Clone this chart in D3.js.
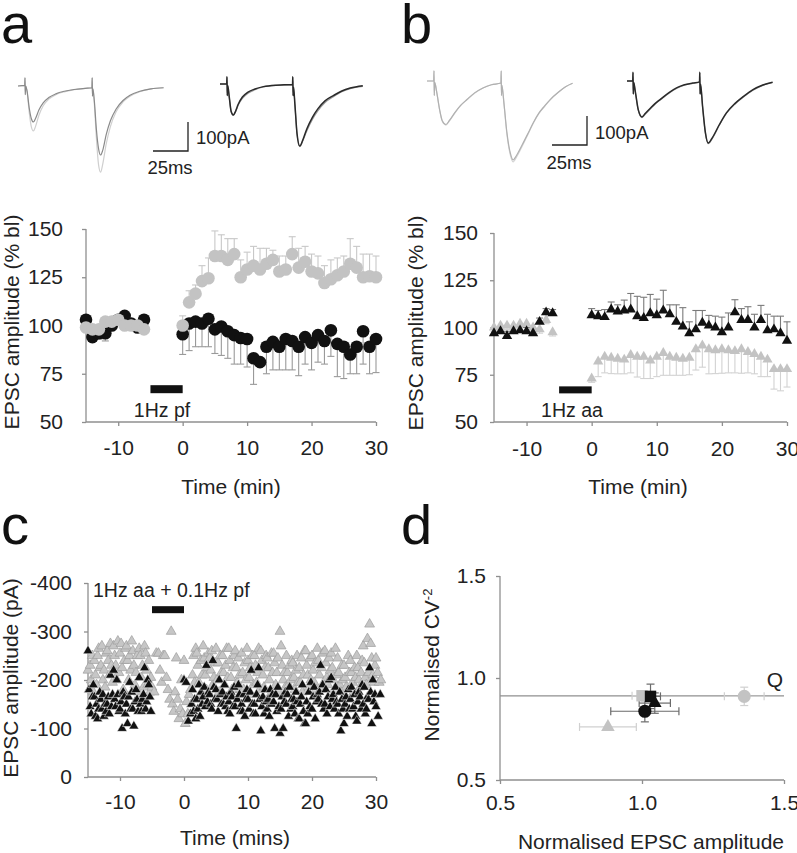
<!DOCTYPE html>
<html>
<head>
<meta charset="utf-8">
<script src="https://cdn.jsdelivr.net/npm/d3@7"></script>
<style>
  body { margin: 0; background: #fff; }
  svg { display: block; font-family: "Liberation Sans", Arial, sans-serif; }
</style>
</head>
<body>
<div id="app"></div>
<script>
// ---- data ----
// panel a / b : EPSC amplitude (% bl), 1 point per minute
const abTime = [-15, -14, -13, -12, -11, -10, -9, -8, -7, -6,
  0, 1, 2, 3, 4, 5, 6, 7, 8, 9, 10, 11, 12, 13, 14, 15, 16, 17, 18, 19, 20,
  21, 22, 23, 24, 25, 26, 27, 28, 29, 30]

const aBlack = [103, 94, 96, 96, 100, 103, 105, 101, 99, 103,
  95.5, 101, 102, 101, 103.5, 98, 99.5, 97, 95, 93.5, 93, 83, 81, 89, 91.5, 89, 93, 92, 89, 94, 91,
  95, 92, 97.5, 90.5, 89, 85, 89, 97, 89, 93]
const aBlackErr = [2, 2, 3, 4, 2, 2, 2, 2, 2, 2,
  10.5, 14, 13, 12, 14.5, 12.5, 15, 14, 15, 13.5, 14.5, 13.5, 2, 14, 14.5, 12, 16, 15, 15, 14, 14,
  14, 12, 13.5, 17, 16.5, 10, 14, 17, 14, 17.4]
const aGray = [99, 98, 98, 102, 102, 103, 100, 100, 100, 98,
  100, 112, 116.5, 123, 124.5, 136, 136, 134, 137, 125, 129, 131, 129, 132, 134, 128, 129, 137, 130, 133, 128,
  127, 122, 124, 126, 128, 132, 130, 125, 125.5, 125]
const aGrayErr = [2, 2, 2, 2, 2, 2, 2, 2, 2, 2,
  5, 6, 4.5, 8, 10.5, 13, 11, 11, 8, 9, 9, 10, 11, 8, 5, 8, 7, 9, 10, 8, 9,
  9, 9, 10, 9, 8, 13, 11, 12, 11.5, 11]

const bBlack = [97, 98, 95.5, 98, 98.5, 98, 97, 103, 108, 107.5,
  106.5, 106, 105.5, 109.5, 108.5, 109, 109.5, 106, 105, 107.5, 106.5, 109, 107, 103, 100.5, 97, 99, 102.5, 101, 100, 97.5,
  100, 108, 104, 104, 100, 104, 98.5, 99, 97, 93]
const bBlackErr = [2.5, 2, 2.5, 2, 2, 2, 2.5, 2, 2, 2,
  3.5, 3, 4, 4, 3.5, 5.5, 8.5, 10.5, 11, 10, 8.5, 10.7, 5, 9, 10, 6, 10, 6.5, 5.4, 6, 8,
  7.7, 6.7, 6, 7, 7, 7.7, 8.5, 7, 9, 10]
const bGray = [100, 101, 101, 101, 102, 102, 100, 99, 104, 97.5,
  73, 82, 84.5, 84, 83.5, 83, 85.5, 84.5, 84.5, 82.5, 84.5, 86.5, 84.5, 84, 83.5, 84, 88.5, 90.5, 88.5, 88, 88.5,
  88, 87.5, 88.5, 87, 86, 84.5, 83, 78, 78, 78]
const bGrayErr = [2, 2, 2, 2, 2, 2, 2, 2, 2, 2,
  2, 8, 8.5, 8.4, 8, 7.5, 9.5, 10.7, 11.5, 9.5, 10.5, 11.8, 9.8, 9.3, 8.8, 9, 11, 11.5, 13, 12.4, 12.7,
  12, 11.5, 12.7, 11, 10.5, 10.5, 9, 10.6, 11.5, 9.5]

// panel c : EPSC amplitude (pA), rows = [minute, values...]
const cGray = [
  [-15, -220, -180, -230, -200, -250, -175], [-14, -240, -210, -190, -250, -265, -225],
  [-13, -230, -270, -200, -220, -185, -255], [-12, -260, -240, -210, -275, -230, -195],
  [-11, -270, -250, -230, -200, -280, -215], [-10, -255, -275, -225, -180, -240, -265],
  [-9, -270, -240, -200, -250, -220, -280], [-8, -260, -230, -190, -215, -250, -175],
  [-7, -265, -250, -205, -230, -185, -270], [-6, -255, -220, -190, -240, -175, -205],
  [-5, -185, -175, -255], [-4, -255, -220, -195, -250], [-3, -250, -205, -180, -160],
  [-2, -300, -150, -135, -175, -245], [-1, -160, -120, -140, -200, -130], [0, -240, -110, -155, -130, -170],
  [1, -180, -150, -210, -250, -195, -265], [2, -255, -230, -195, -165, -240, -210],
  [3, -270, -245, -210, -180, -225, -255], [4, -245, -220, -260, -190, -205, -235],
  [5, -265, -200, -235, -175, -250, -215], [6, -250, -215, -190, -230, -265, -205],
  [7, -265, -240, -205, -180, -225, -250], [8, -260, -225, -195, -245, -210, -180],
  [9, -255, -215, -180, -235, -200, -265], [10, -240, -205, -225, -170, -250, -190],
  [11, -250, -230, -195, -215, -265, -180], [12, -260, -240, -210, -185, -225, -250],
  [13, -245, -225, -200, -170, -255, -215], [14, -255, -235, -190, -215, -245, -175],
  [15, -300, -270, -230, -200, -215, -185], [16, -250, -215, -190, -230, -200, -240],
  [17, -235, -205, -180, -220, -250, -195], [18, -225, -195, -245, -175, -210, -260],
  [19, -260, -230, -210, -185, -245, -200], [20, -250, -220, -195, -235, -180, -265],
  [21, -240, -210, -180, -225, -255, -195], [22, -260, -235, -205, -190, -245, -220],
  [23, -255, -225, -200, -180, -265, -210], [24, -245, -215, -190, -175, -230, -200],
  [25, -230, -205, -185, -140, -250, -215], [26, -240, -215, -195, -175, -225, -205],
  [27, -250, -225, -200, -185, -215, -240], [28, -270, -235, -205, -190, -285, -215],
  [29, -315, -275, -245, -210, -195, -230], [30, -245, -215, -195, -200]
]
const cBlack = [
  [-15, -260, -180, -145, -130, -165, -190], [-14, -165, -125, -150, -120, -140, -175],
  [-13, -160, -140, -170, -125, -150, -135], [-12, -150, -165, -130, -210, -145, -170],
  [-11, -220, -160, -145, -200, -170, -135], [-10, -140, -155, -100, -175, -165, -130],
  [-9, -150, -110, -165, -195, -140, -175], [-8, -140, -105, -155, -180, -160, -135],
  [-7, -205, -150, -135, -160, -170, -225], [-6, -140, -155, -200, -190, -165, -135],
  [0, -200, -195, -115],
  [1, -130, -150, -180, -135, -160, -120], [2, -160, -140, -190, -125, -175, -150],
  [3, -165, -185, -145, -230, -155, -175], [4, -170, -150, -140, -240, -185, -160],
  [5, -180, -160, -135, -200, -170, -150], [6, -175, -150, -190, -145, -165, -135],
  [7, -155, -130, -175, -165, -145, -185], [8, -145, -100, -160, -190, -170, -135],
  [9, -150, -135, -170, -125, -160, -180], [10, -160, -140, -175, -220, -150, -130],
  [11, -150, -130, -170, -190, -225, -160], [12, -95, -145, -165, -130, -180, -155],
  [13, -140, -160, -125, -180, -150, -170], [14, -155, -100, -170, -135, -185, -145],
  [15, -90, -140, -165, -100, -155, -175], [16, -150, -170, -125, -185, -140, -160],
  [17, -145, -160, -130, -175, -155, -120], [18, -120, -150, -165, -190, -135, -110],
  [19, -110, -155, -130, -175, -145, -195], [20, -140, -165, -185, -120, -155, -170],
  [21, -160, -175, -230, -150, -190, -140], [22, -150, -180, -130, -165, -200, -145],
  [23, -205, -160, -170, -140, -185, -155], [24, -150, -130, -175, -95, -160, -140],
  [25, -110, -150, -165, -125, -180, -140], [26, -160, -185, -140, -145, -170, -125],
  [27, -115, -155, -175, -165, -140, -190], [28, -150, -185, -130, -140, -165, -160],
  [29, -225, -175, -110, -200, -155, -170], [30, -145, -125, -170]
]

// panel d : normalised amplitude vs normalised CV^-2
const dShape = ['square', 'triangle', 'circle', 'square', 'triangle', 'circle']
const dTone = ['gray', 'gray', 'gray', 'black', 'black', 'black']
const dX = [1.00, 0.88, 1.36, 1.03, 1.045, 1.01]
const dY = [0.913, 0.76, 0.91, 0.91, 0.877, 0.837]
const dXErr = [0.035, 0.10, 0.07, 0.035, 0.055, 0.12]
const dYErr = [0.02, 0, 0.045, 0.06, 0.05, 0.052]
const dQ = 0.912

// example traces, [ms, pA]
const trALeftLight = [[0, 0], [4.8, 2], [5, 28], [5.2, -30], [5.5, 0], [6.5, -20], [8, -90], [9.5, -140], [11, -155], [12.5, -140], [15, -100], [18, -68], [22, -45], [27, -30], [33, -20], [40, -13], [48, -8], [52.8, -6], [53, 28], [53.2, -35], [53.5, -10], [54.5, -60], [56, -180], [57.5, -270], [59, -297], [60.5, -270], [63, -200], [66, -140], [70, -90], [75, -55], [80, -35], [87, -20], [95, -10], [104, -6]]
const trALeftDark = [[0, 0], [4.8, 2], [5, 28], [5.2, -30], [5.5, 0], [6.5, -18], [8, -75], [9.5, -112], [11, -124], [12.5, -112], [15, -82], [18, -58], [22, -40], [27, -27], [33, -18], [40, -12], [48, -8], [52.8, -6], [53, 28], [53.2, -35], [53.5, -10], [54.5, -50], [56, -150], [57.5, -215], [59, -238], [60.5, -222], [63, -168], [66, -120], [70, -80], [75, -50], [80, -32], [87, -18], [95, -10], [104, -6]]
const trARightGray = [[0, 0], [4.8, 0], [5, 25], [5.2, -40], [5.5, -5], [6.5, -42], [8, -97], [9.5, -108], [11, -97], [13, -73], [16, -50], [20, -32], [25, -20], [31, -10], [40, -5], [51.8, -2], [52, 25], [52.2, -40], [52.5, -10], [53.5, -72], [55, -172], [57, -216], [59, -198], [62, -162], [66, -122], [70, -92], [75, -64], [81, -44], [87, -27], [93, -16], [102, -8]]
const trARightBlack = [[0, 0], [4.8, 0], [5, 25], [5.2, -40], [5.5, -5], [6.5, -40], [8, -95], [9.5, -107], [11, -95], [13, -70], [16, -45], [20, -28], [25, -17], [31, -9], [40, -4], [51.8, -2], [52, 25], [52.2, -40], [52.5, -10], [53.5, -70], [55, -170], [57, -214], [59, -195], [62, -155], [66, -115], [70, -85], [75, -58], [81, -40], [87, -24], [93, -14], [102, -6]]
const trBLeftLight = [[0, 0], [4.8, 0], [5, 35], [5.2, -50], [5.5, -5], [7, -40], [9, -100], [11, -140], [13.5, -152], [16, -138], [20, -110], [24, -85], [28.5, -65], [34, -42], [40, -24], [46, -13], [52.8, -7], [53, 35], [53.2, -50], [53.5, -15], [55, -80], [57, -180], [59.5, -255], [61.5, -279], [64, -262], [68, -225], [72, -185], [76, -145], [80, -112], [84, -88], [88, -65], [94, -38], [99, -20], [104, -8]]
const trBLeftMid = [[0, 0], [4.8, 0], [5, 35], [5.2, -50], [5.5, -5], [7, -40], [9, -98], [11, -138], [13.5, -150], [16, -136], [20, -108], [24, -84], [28.5, -64], [34, -41], [40, -24], [46, -13], [52.8, -7], [53, 35], [53.2, -50], [53.5, -15], [55, -78], [57, -175], [59.5, -248], [61.5, -272], [64, -256], [68, -220], [72, -182], [76, -143], [80, -110], [84, -86], [88, -64], [94, -38], [99, -20], [104, -8]]
const trBRightGray = [[0, 0], [4.1, 0], [4.3, 30], [4.5, -45], [4.8, -5], [6, -40], [8, -100], [10.7, -126], [13, -115], [17, -95], [20, -80], [23.6, -66], [30, -42], [35.7, -25], [41, -14], [47, -8], [51.8, -4], [52, 30], [52.2, -45], [52.5, -10], [54, -90], [56, -180], [58, -216], [61, -198], [66, -152], [71, -112], [77, -80], [83, -56], [90, -32], [97, -15], [104, -5]]
const trBRightBlack = [[0, 0], [4.1, 0], [4.3, 30], [4.5, -45], [4.8, -5], [6, -38], [8, -98], [10.7, -124], [13, -112], [17, -92], [20, -78], [23.6, -64], [30, -40], [35.7, -23], [41, -13], [47, -7], [51.8, -3], [52, 30], [52.2, -45], [52.5, -10], [54, -88], [56, -178], [58, -214], [61, -195], [66, -150], [71, -110], [77, -78], [83, -54], [90, -30], [97, -14], [104, -4]]

// ---- drawing ----
const W = 797, H = 853
const axisColor = '#8f8f8f'
const svg = d3.select('#app').append('svg')
  .attr('width', W)
  .attr('height', H)

svg.append('rect').attr('width', W).attr('height', H).attr('fill', '#fff')

// panel letters
const letters = [['a', 1, 43], ['b', 401, 43], ['c', 1, 544], ['d', 401, 544]]
svg.selectAll('text.letter').data(letters).enter().append('text')
  .attr('class', 'letter')
  .attr('x', d => d[1])
  .attr('y', d => d[2])
  .attr('font-size', 56)
  .attr('fill', '#111')
  .text(d => d[0])

const plain = d => String(d)   // hyphen minus, as in the figure

function styleAxis(g) {
  g.select('.domain').attr('stroke', axisColor).attr('stroke-width', 1.3)
  g.selectAll('.tick line').attr('stroke', axisColor).attr('stroke-width', 1.3)
  g.selectAll('.tick text').attr('fill', '#222').attr('font-size', 21)
    .attr('font-family', '"Liberation Sans", Arial, sans-serif')
}

function drawAxes(x, y, opt) {
  const xa = svg.append('g')
    .attr('transform', `translate(0,${y.range()[0]})`)
    .call(d3.axisBottom(x).tickValues(opt.xTicks).tickFormat(opt.xFmt || plain)
      .tickSizeOuter(0).tickSize(4).tickPadding(opt.xPad))
  styleAxis(xa)
  const ya = svg.append('g')
    .attr('transform', `translate(${x.range()[0]},0)`)
    .call(d3.axisLeft(y).tickValues(opt.yTicks).tickFormat(opt.yFmt || plain)
      .tickSizeOuter(0).tickSize(4).tickPadding(opt.yPad))
  styleAxis(ya)
  ya.select('.domain').attr('d', `M0,${y.range()[0]}V${y.range()[1]}`)
  xa.select('.domain').attr('d', `M${x.range()[0]},0H${x.range()[1]}`)

  svg.append('text')
    .attr('x', opt.xTitle[1]).attr('y', opt.xTitle[2])
    .attr('text-anchor', 'middle').attr('dy', '0.35em')
    .attr('font-size', 21).attr('fill', '#222')
    .text(opt.xTitle[0])
  const yt = svg.append('text')
    .attr('transform', `translate(${opt.yTitle[1]},${opt.yTitle[2]}) rotate(-90)`)
    .attr('text-anchor', 'middle').attr('dy', '0.35em')
    .attr('font-size', 21).attr('fill', '#222')
  yt.append('tspan').text(opt.yTitle[0])
  if (opt.yTitle[3]) {
    yt.append('tspan').attr('font-size', 13).attr('dy', '-0.6em').text(opt.yTitle[3])
  }
}

function stimBar(x, y, t0, t1, v, h, label, lx, ly) {
  svg.append('rect')
    .attr('x', x(t0)).attr('width', x(t1) - x(t0))
    .attr('y', y(v) - h / 2).attr('height', h)
    .attr('fill', '#111')
  svg.append('text')
    .attr('x', lx).attr('y', ly).attr('dy', '0.35em')
    .attr('text-anchor', 'middle')
    .attr('font-size', 19.5).attr('fill', '#222')
    .text(label)
}

function errBars(x, y, vals, errs, dir, color) {
  const g = svg.append('g').attr('stroke', color).attr('stroke-width', 1.1).attr('fill', 'none')
  vals.forEach((v, i) => {
    const t = abTime[i]
    const y0 = y(v), y1 = y(v + dir * errs[i])
    g.append('line').attr('x1', x(t)).attr('x2', x(t)).attr('y1', y0).attr('y2', y1)
    g.append('line').attr('x1', x(t) - 3.5).attr('x2', x(t) + 3.5).attr('y1', y1).attr('y2', y1)
  })
}

// --- panel a ---
const xa = d3.scaleLinear().domain([-15, 30]).range([86, 376])
const ya = d3.scaleLinear().domain([50, 150]).range([422, 229])
drawAxes(xa, ya, {
  xTicks: [-10, 0, 10, 20, 30], yTicks: [50, 75, 100, 125, 150], xPad: 14, yPad: 19,
  xTitle: ['Time (min)', 231, 487], yTitle: ['EPSC amplitude (% bl)', 12, 322]
})
errBars(xa, ya, aBlack, aBlackErr, -1, '#9a9a9a')
errBars(xa, ya, aGray, aGrayErr, 1, '#c8c8c8')
svg.append('g').selectAll('circle').data(aBlack).enter().append('circle')
  .attr('cx', (d, i) => xa(abTime[i])).attr('cy', d => ya(d)).attr('r', 6.3)
  .attr('fill', '#111')
svg.append('g').selectAll('circle').data(aGray).enter().append('circle')
  .attr('cx', (d, i) => xa(abTime[i])).attr('cy', d => ya(d)).attr('r', 6.3)
  .attr('fill', '#c3c3c3')
stimBar(xa, ya, -5, 0, 67, 8, '1Hz pf', 162, 410)

// --- panel b ---
const xb = d3.scaleLinear().domain([-15, 30]).range([494, 787])
const yb = d3.scaleLinear().domain([50, 150]).range([422, 233])
drawAxes(xb, yb, {
  xTicks: [-10, 0, 10, 20, 30], yTicks: [50, 75, 100, 125, 150], xPad: 15, yPad: 12,
  xTitle: ['Time (min)', 638, 487], yTitle: ['EPSC amplitude (% bl)', 416, 323]
})
const tri = (s) => d3.symbol(d3.symbolTriangle, s)()
errBars(xb, yb, bGray, bGrayErr, -1, '#d2d2d2')
errBars(xb, yb, bBlack, bBlackErr, 1, '#7a7a7a')
svg.append('g').selectAll('path').data(bGray).enter().append('path')
  .attr('d', tri(46))
  .attr('transform', (d, i) => `translate(${xb(abTime[i])},${yb(d)})`)
  .attr('fill', '#c3c3c3')
svg.append('g').selectAll('path').data(bBlack).enter().append('path')
  .attr('d', tri(46))
  .attr('transform', (d, i) => `translate(${xb(abTime[i])},${yb(d)})`)
  .attr('fill', '#111')
stimBar(xb, yb, -5, 0, 67, 7, '1Hz aa', 572, 410)

// --- panel c ---
const xc = d3.scaleLinear().domain([-15, 30]).range([88, 376])
const yc = d3.scaleLinear().domain([0, -400]).range([777, 583])
drawAxes(xc, yc, {
  xTicks: [-10, 0, 10, 20, 30], yTicks: [0, -100, -200, -300, -400], xPad: 13, yPad: 12,
  xTitle: ['Time (mins)', 235, 838], yTitle: ['EPSC amplitude (pA)', 11, 678]
})
function flatten(rows) {
  const pts = []
  rows.forEach(r => {
    const n = r.length - 1
    r.slice(1).forEach((v, j) => pts.push({ t: r[0] + j / n, v: v }))
  })
  return pts
}
svg.append('g').selectAll('path').data(flatten(cGray)).enter().append('path')
  .attr('d', tri(42))
  .attr('transform', d => `translate(${xc(d.t)},${yc(d.v)})`)
  .attr('fill', '#c6c6c6').attr('stroke', '#9d9d9d').attr('stroke-width', 0.7)
svg.append('g').selectAll('path').data(flatten(cBlack)).enter().append('path')
  .attr('d', tri(42))
  .attr('transform', d => `translate(${xc(d.t)},${yc(d.v)})`)
  .attr('fill', '#111').attr('stroke', '#fff').attr('stroke-width', 0.5)
svg.append('rect')
  .attr('x', xc(-5)).attr('width', xc(0) - xc(-5))
  .attr('y', yc(-345) - 3.5).attr('height', 7).attr('fill', '#111')
svg.append('text')
  .attr('x', 93).attr('y', 590).attr('dy', '0.35em')
  .attr('font-size', 19.5).attr('fill', '#222')
  .text('1Hz aa + 0.1Hz pf')

// --- panel d ---
const xd = d3.scaleLinear().domain([0.5, 1.5]).range([500, 784])
const yd = d3.scaleLinear().domain([0.5, 1.5]).range([780, 576])
drawAxes(xd, yd, {
  xTicks: [0.5, 1.0, 1.5], yTicks: [0.5, 1.0, 1.5], xPad: 11, yPad: 10,
  xFmt: d3.format('.1f'), yFmt: d3.format('.1f'),
  xTitle: ['Normalised EPSC amplitude', 651, 842], yTitle: ['Normalised CV', 432, 665, '-2']
})
svg.append('line')
  .attr('x1', xd(0.5)).attr('x2', xd(1.5)).attr('y1', yd(dQ)).attr('y2', yd(dQ))
  .attr('stroke', axisColor).attr('stroke-width', 1.3)
svg.append('text')
  .attr('x', 775).attr('y', 680).attr('dy', '0.35em').attr('text-anchor', 'middle')
  .attr('font-size', 21).attr('fill', '#222').text('Q')

const dFill = { gray: '#c3c3c3', black: '#111' }
const dErr = { gray: '#d0d0d0', black: '#6a6a6a' }
dX.forEach((x, i) => {
  const g = svg.append('g').attr('stroke', dErr[dTone[i]]).attr('stroke-width', 1.2)
  const cx = xd(x), cy = yd(dY[i])
  if (dXErr[i] > 0) {
    const l = xd(x - dXErr[i]), r = xd(x + dXErr[i])
    g.append('line').attr('x1', l).attr('x2', r).attr('y1', cy).attr('y2', cy)
    g.append('line').attr('x1', l).attr('x2', l).attr('y1', cy - 4).attr('y2', cy + 4)
    g.append('line').attr('x1', r).attr('x2', r).attr('y1', cy - 4).attr('y2', cy + 4)
  }
  if (dYErr[i] > 0) {
    const t = yd(dY[i] + dYErr[i]), b = yd(dY[i] - dYErr[i])
    g.append('line').attr('x1', cx).attr('x2', cx).attr('y1', t).attr('y2', b)
    g.append('line').attr('x1', cx - 4).attr('x2', cx + 4).attr('y1', t).attr('y2', t)
    g.append('line').attr('x1', cx - 4).attr('x2', cx + 4).attr('y1', b).attr('y2', b)
  }
})
dX.forEach((x, i) => {
  const cx = xd(x), cy = yd(dY[i])
  let sym = d3.symbolCircle, size = 135
  if (dShape[i] === 'square') { sym = d3.symbolSquare; size = 130 }
  if (dShape[i] === 'triangle') { sym = d3.symbolTriangle; size = 80 }
  svg.append('path')
    .attr('d', d3.symbol(sym, size)())
    .attr('transform', `translate(${cx},${cy})`)
    .attr('fill', dFill[dTone[i]])
})

// --- example traces ---
function drawTraces(x0, base, traces) {
  const tx = d3.scaleLinear().domain([0, 25]).range([x0, x0 + 35])
  const ty = d3.scaleLinear().domain([0, -100]).range([base, base + 29])
  const line = d3.line().x(d => tx(d[0])).y(d => ty(d[1])).curve(d3.curveMonotoneX)
  traces.forEach(t => {
    svg.append('path').attr('d', line(t[0]))
      .attr('fill', 'none').attr('stroke', t[1]).attr('stroke-width', t[2] || 1.2)
  })
}
drawTraces(18, 86, [[trALeftLight, '#cfcfcf'], [trALeftDark, '#8a8a8a']])
drawTraces(220, 84, [[trARightGray, '#999'], [trARightBlack, '#2a2a2a', 1.5]])
drawTraces(427, 81, [[trBLeftLight, '#d4d4d4'], [trBLeftMid, '#b0b0b0']])
drawTraces(627, 81, [[trBRightGray, '#999'], [trBRightBlack, '#2a2a2a', 1.5]])

// scale bars
function scaleBar(cx, cy, lx, ly, tx, ty) {
  const sx = d3.scaleLinear().domain([0, 25]).range([0, 35])
  const sy = d3.scaleLinear().domain([0, 100]).range([0, 29])
  svg.append('path')
    .attr('d', `M${cx - sx(25)},${cy}H${cx}V${cy - sy(100)}`)
    .attr('fill', 'none').attr('stroke', '#222').attr('stroke-width', 1.3)
  svg.append('text').attr('x', lx).attr('y', ly).attr('dy', '0.35em')
    .attr('font-size', 18.5).attr('fill', '#222').text('100pA')
  svg.append('text').attr('x', tx).attr('y', ty).attr('dy', '0.35em').attr('text-anchor', 'middle')
    .attr('font-size', 18.5).attr('fill', '#222').text('25ms')
}
scaleBar(188, 151, 196, 138, 170, 168)
scaleBar(587, 145, 595, 133, 569, 163)
</script>
</body>
</html>
